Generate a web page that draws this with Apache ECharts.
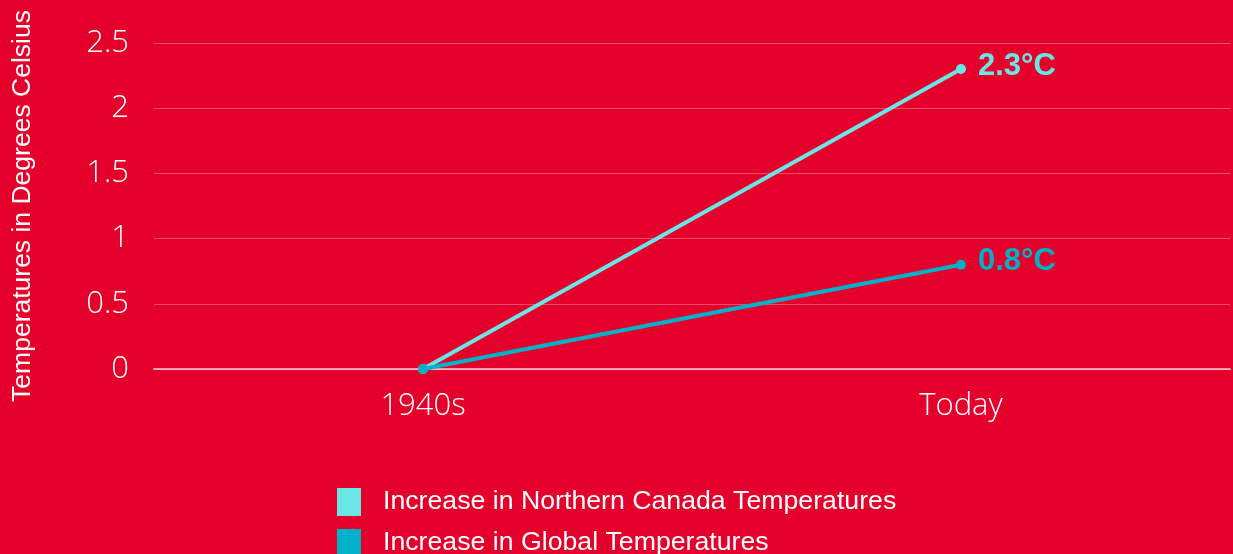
<!DOCTYPE html>
<html>
<head>
<meta charset="utf-8">
<script src="https://cdn.jsdelivr.net/npm/echarts@6/dist/echarts.min.js"></script>
<style>
  html, body { margin: 0; padding: 0; background: #e4002b; }
  #chart { width: 1233px; height: 554px; }
</style>
</head>
<body>
<div id="chart"></div>
<script>
const categories = ['1940s', 'Today'];
const northernCanada = [0, 2.3];
const globalTemps = [0, 0.8];
const seriesNames = ['Increase in Northern Canada Temperatures', 'Increase in Global Temperatures'];

const chart = echarts.init(document.getElementById('chart'));

const makeSeries = (name, data, color) => ({
  name: name,
  type: 'line',
  data: data,
  symbol: 'circle',
  symbolSize: 10,
  lineStyle: { color: color, width: 4 },
  itemStyle: { color: color },
  label: {
    show: true,
    position: 'right',
    distance: 12,
    offset: [0, -3],
    color: color,
    fontFamily: 'Liberation Sans',
    fontWeight: 'bold',
    fontSize: 31,
    formatter: (p) => (p.dataIndex === data.length - 1 ? p.value + '°C' : '')
  },
  emphasis: { disabled: true }
});

const legendBase = {
  orient: 'vertical',
  left: 337,
  padding: 0,
  itemWidth: 24,
  itemHeight: 28,
  icon: 'rect',
  textStyle: { color: '#ffffff', fontFamily: 'Liberation Sans', fontSize: 26.7, padding: [0, 0, 0, 17] }
};

chart.setOption({
  backgroundColor: '#e4002b',
  animation: false,
  grid: { left: 154, right: 3, top: 43, bottom: 185, containLabel: false },
  legend: [
    Object.assign({}, legendBase, { top: 488, data: [seriesNames[0]] }),
    Object.assign({}, legendBase, { top: 529, data: [seriesNames[1]] })
  ],
  xAxis: {
    type: 'category',
    data: categories,
    boundaryGap: true,
    axisLine: { show: true, lineStyle: { color: 'rgba(255,255,255,0.6)', width: 2 } },
    axisTick: { show: false },
    axisLabel: { color: '#ffffff', fontFamily: 'Open Sans', fontWeight: 300, fontSize: 31, margin: 22 }
  },
  yAxis: {
    type: 'value',
    min: 0,
    max: 2.5,
    interval: 0.5,
    name: 'Temperatures in Degrees Celsius',
    nameLocation: 'middle',
    nameGap: 118,
    nameTextStyle: { color: '#ffffff', fontFamily: 'Liberation Sans', fontSize: 26.5 },
    axisLine: { show: false },
    axisTick: { show: false },
    axisLabel: { color: '#ffffff', fontFamily: 'Open Sans', fontWeight: 300, fontSize: 31, margin: 25, padding: [5, 0, 0, 0] },
    splitLine: { lineStyle: { color: 'rgba(255,255,255,0.3)', width: 1 } }
  },
  series: [
    makeSeries(seriesNames[0], northernCanada, '#6ae6e6'),
    makeSeries(seriesNames[1], globalTemps, '#00b1c9')
  ]
});

window.addEventListener('resize', () => {
  chart.resize();
});
</script>
</body>
</html>
